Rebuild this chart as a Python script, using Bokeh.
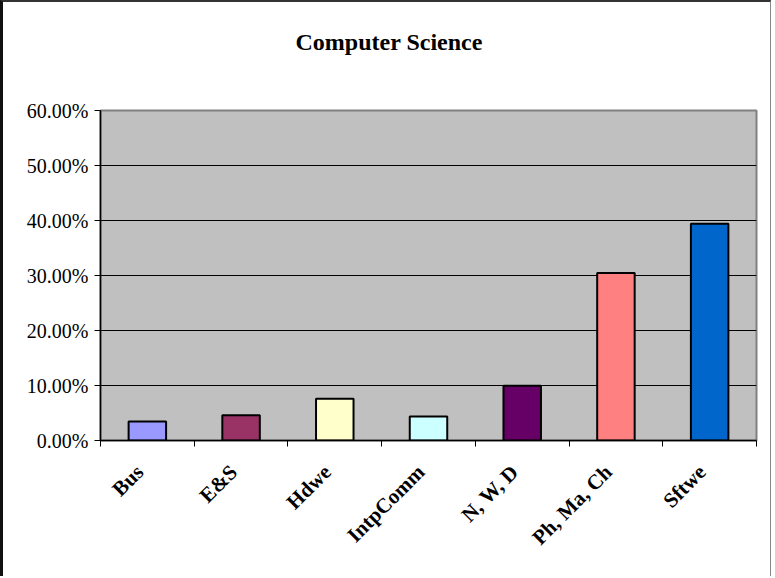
import numpy as np
from bokeh.plotting import figure
from bokeh.models import (ColumnDataSource, FixedTicker, NumeralTickFormatter,
                          Range1d, Title)
from bokeh.embed import file_html
from bokeh.resources import INLINE

# ---- data ----
categories = ["Bus", "E&S", "Hdwe", "IntpComm", "N, W, D", "Ph, Ma, Ch", "Sftwe"]
shares = [0.0345, 0.046, 0.076, 0.0436, 0.0995, 0.3047, 0.394]
bar_colors = ["#9999FF", "#993366", "#FFFFCC", "#CCFFFF", "#660066", "#FF8080", "#0066CC"]
y_ticks = [0.0, 0.1, 0.2, 0.3, 0.4, 0.5, 0.6]
title_text = "Computer Science"

n = len(categories)
centers = np.arange(n) + 0.5
src = ColumnDataSource(dict(x=centers, top=shares, color=bar_colors, cat=categories))

p = figure(width=771, height=576, output_backend="svg", toolbar_location=None,
           x_range=Range1d(0, n), y_range=Range1d(y_ticks[0], y_ticks[-1]),
           min_border_left=97, min_border_right=18, min_border_top=108,
           min_border_bottom=138)
p.styles = {"border-top": "2px solid #333333", "border-left": "3px solid #111111",
            "border-right": "1px solid #888888"}
p.background_fill_color = "#C0C0C0"
p.border_fill_color = "white"
p.outline_line_color = "#808080"
p.outline_line_width = 2

p.vbar(x="x", top="top", width=0.4, bottom=0, source=src, fill_color="color",
       line_color="black", line_width=2)

# grid
p.xgrid.visible = False
p.ygrid.ticker = FixedTicker(ticks=y_ticks[1:-1])
p.ygrid.grid_line_color = "black"
p.ygrid.grid_line_width = 1

# y axis
ya = p.yaxis[0]
ya.ticker = FixedTicker(ticks=y_ticks)
ya.formatter = NumeralTickFormatter(format="0.00%")
ya.major_label_text_font = "Liberation Serif"
ya.major_label_text_font_size = "20px"
ya.major_label_text_color = "black"
ya.major_tick_out = 6
ya.major_tick_in = 0
ya.minor_tick_line_color = None
ya.axis_line_color = "black"
ya.axis_line_width = 1.5
ya.major_label_standoff = 6

# x axis: labels near centers (rotated text anchored at its top corner), ticks at boundaries
label_pos = [float(c) - 0.08 for c in centers]
xa = p.xaxis[0]
xa.ticker = FixedTicker(ticks=label_pos, minor_ticks=list(np.arange(n + 1)))
xa.major_label_overrides = {lp: lab for lp, lab in zip(label_pos, categories)}
xa.major_label_orientation = np.pi / 4
xa.major_label_text_font = "Liberation Serif"
xa.major_label_text_font_style = "bold"
xa.major_label_text_font_size = "21px"
xa.major_label_text_color = "black"
xa.major_tick_out = 0
xa.major_tick_in = 0
xa.minor_tick_out = 6
xa.minor_tick_in = 0
xa.minor_tick_line_color = "black"
xa.axis_line_color = "black"
xa.axis_line_width = 1.5
xa.major_label_standoff = 22

# title (an empty second line lifts it toward the top of the chart)
p.add_layout(Title(text=title_text + "\n ", align="left", offset=195, standoff=48,
                   text_line_height=1.2,
                   text_font="Liberation Serif", text_font_style="bold",
                   text_font_size="24px", text_color="black"), "above")

open("out.html", "w").write(file_html(p, INLINE))
